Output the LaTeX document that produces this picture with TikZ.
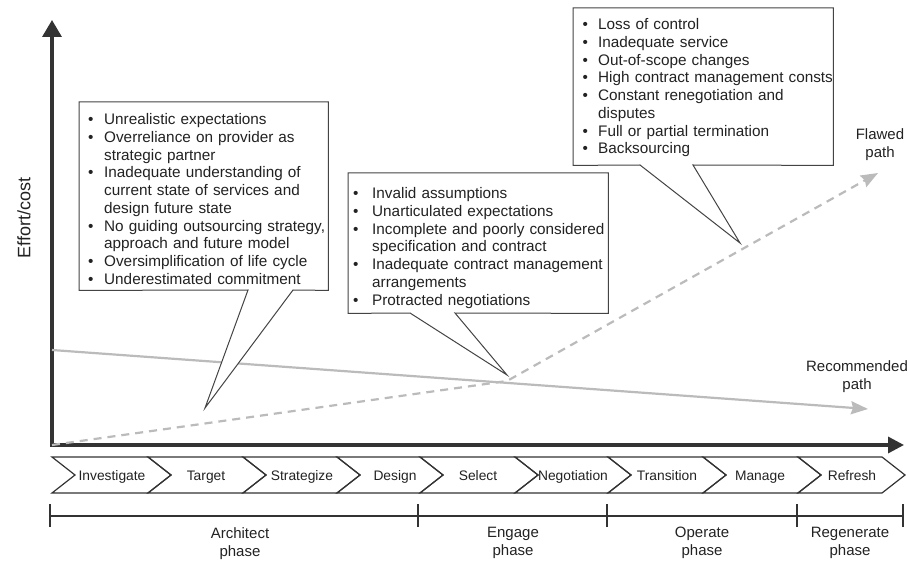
\documentclass[tikz,border=0pt]{standalone}
\usepackage{fontspec}
\setmainfont{Liberation Sans}
\usetikzlibrary{arrows.meta}

\definecolor{ink}{HTML}{222222}
\definecolor{axisc}{HTML}{333333}
\definecolor{framec}{HTML}{444444}
\definecolor{pathc}{HTML}{BBBBBB}

\newlength\bulw
% paragraph settings for the bullet lists
\newcommand\listsetup[1]{\raggedright\setlength\parskip{0pt}\setlength\bulw{#1}\relax}
% one bullet point; wrapped lines (\newline) hang under the text
\newcommand\bulitem[1]{\par\hangindent=\bulw\hangafter=1\noindent\strut\makebox[\bulw][l]{\textbullet}#1\par}

\begin{document}
\begin{tikzpicture}[x=1pt,y=-1pt,
  axis/.style={draw=axisc,line width=3.4pt},
  yaxistip/.style={-{Triangle[length=17pt,width=19pt]}},
  xaxistip/.style={-{Triangle[length=16pt,width=16pt]}},
  trend/.style={draw=pathc,line width=2.2pt,-{Stealth[length=17pt,width=13pt,inset=2pt]}},
  flawed/.style={trend,dash pattern=on 8pt off 6pt},
  callbox/.style={draw=none,inner sep=0pt,anchor=north west},
  callout/.style={draw=framec,line width=1pt,fill=white,line join=miter},
  listtext/.style={anchor=north west,inner sep=0pt,text width=270pt,text=ink,
    font=\fontsize{15.3}{17.7}\selectfont},
  chevron/.style={draw=axisc,line width=1.2pt,line join=miter},
  steplabel/.style={text=ink,font=\fontsize{13.8}{16}\selectfont,inner sep=0pt,anchor=base},
  phasebar/.style={draw=axisc,line width=2.2pt},
  phasetick/.style={draw=axisc,line width=1.6pt},
  phaselabel/.style={text=ink,align=center,inner sep=0pt,anchor=north,
    font=\fontsize{15}{18}\selectfont},
  pathlabel/.style={text=ink,align=center,inner sep=0pt,anchor=north,
    font=\fontsize{15}{18}\selectfont}]

\useasboundingbox (0,0) rectangle (910,561);

% ---- axes ----
\coordinate (origin) at (52,445);
\coordinate (ytip) at (52,20);
\coordinate (xtip) at (904,445);
\draw[axis,yaxistip] (52,446.7) -- (ytip);
\draw[axis,xaxistip] (50.3,445) -- (xtip);
\node[rotate=90,text=ink,font=\fontsize{18}{20}\selectfont,inner sep=0pt] (ylabel) at (24,218) {Effort/cost};

% ---- cost paths ----
\coordinate (recstart) at (52,350);
\coordinate (recend) at (868,409);
\coordinate (bend) at (507,381);
\coordinate (flawend) at (878,173);
\draw[trend] (recstart) -- (recend);
\draw[flawed] (origin) -- (bend) -- (flawend);
\node[pathlabel] (flawlbl) at (880,128) {Flawed\\path};
\node[pathlabel] (reclbl) at (857,360) {Recommended\\path};

% ---- callout: architect risks ----
\node[callbox,minimum width=249pt,minimum height=188pt] (box1) at (79,102) {};
\coordinate (b1l) at (248,290);
\coordinate (b1r) at (293,290);
\coordinate (tip1) at (205,408);
\draw[callout] (box1.north west) -- (box1.north east) -- (box1.south east)
  -- (b1r) -- (tip1) -- (b1l) -- (box1.south west) -- cycle;
\node[listtext] (list1) at (88,107) {\listsetup{16pt}%
  \bulitem{Unrealistic expectations}
  \bulitem{Overreliance on provider as\newline strategic partner}
  \bulitem{Inadequate understanding of\newline current state of services and\newline design future state}
  \bulitem{No guiding outsourcing strategy,\newline approach and future model}
  \bulitem{Oversimplification of life cycle}
  \bulitem{Underestimated commitment}};

% ---- callout: engage risks ----
\node[callbox,minimum width=260pt,minimum height=140pt] (box2) at (348,173) {};
\coordinate (b2l) at (410,313);
\coordinate (b2r) at (455,313);
\coordinate (tip2) at (507,375);
\draw[callout] (box2.north west) -- (box2.north east) -- (box2.south east)
  -- (b2r) -- (tip2) -- (b2l) -- (box2.south west) -- cycle;
\node[listtext] (list2) at (353,181) {\listsetup{19pt}%
  \bulitem{Invalid assumptions}
  \bulitem{Unarticulated expectations}
  \bulitem{Incomplete and poorly considered\newline specification and contract}
  \bulitem{Inadequate contract management\newline arrangements}
  \bulitem{Protracted negotiations}};

% ---- callout: operate risks ----
\node[callbox,minimum width=260pt,minimum height=157pt] (box3) at (573,8) {};
\coordinate (b3l) at (640,165);
\coordinate (b3r) at (693,165);
\coordinate (tip3) at (740,243);
\draw[callout] (box3.north west) -- (box3.north east) -- (box3.south east)
  -- (b3r) -- (tip3) -- (b3l) -- (box3.south west) -- cycle;
\node[listtext] (list3) at (582.5,12) {\listsetup{15.5pt}%
  \bulitem{Loss of control}
  \bulitem{Inadequate service}
  \bulitem{Out-of-scope changes}
  \bulitem{High contract management consts}
  \bulitem{Constant renegotiation and\newline disputes}
  \bulitem{Full or partial termination}
  \bulitem{Backsourcing}};

% ---- process chevrons ----
\foreach \xa/\xb in {52/148,148/243,243/337,337/420,420/515,515/608,608/703,703/798,798/882}{
  \draw[chevron] (\xa,457) -- (\xb,457) -- (\xb+23,475) -- (\xb,493)
    -- (\xa,493) -- (\xa+23,475) -- cycle;
}
\node[steplabel] (s1) at (112,480.5) {Investigate};
\node[steplabel] (s2) at (206,480.5) {Target};
\node[steplabel] (s3) at (302,480.5) {Strategize};
\node[steplabel] (s4) at (395,480.5) {Design};
\node[steplabel] (s5) at (478,480.5) {Select};
\node[steplabel] (s6) at (573,480.5) {Negotiation};
\node[steplabel] (s7) at (667,480.5) {Transition};
\node[steplabel] (s8) at (760,480.5) {Manage};
\node[steplabel] (s9) at (852,480.5) {Refresh};

% ---- phase bar ----
\coordinate (p0) at (50,516);
\coordinate (p1) at (418,516);
\coordinate (p2) at (607,516);
\coordinate (p3) at (797,516);
\coordinate (p4) at (903,516);
\draw[phasebar] (p0) -- (p4);
\foreach \p in {p0,p1,p2,p3,p4}{
  \draw[phasetick] ([yshift=-11pt]\p) -- ([yshift=12pt]\p);
}
\node[phaselabel] (ph1) at (240,527) {Architect\\phase};
\node[phaselabel] (ph2) at (513,527) {Engage\\phase};
\node[phaselabel] (ph3) at (702,527) {Operate\\phase};
\node[phaselabel] (ph4) at (850,527) {Regenerate\\phase};

\end{tikzpicture}
\end{document}
